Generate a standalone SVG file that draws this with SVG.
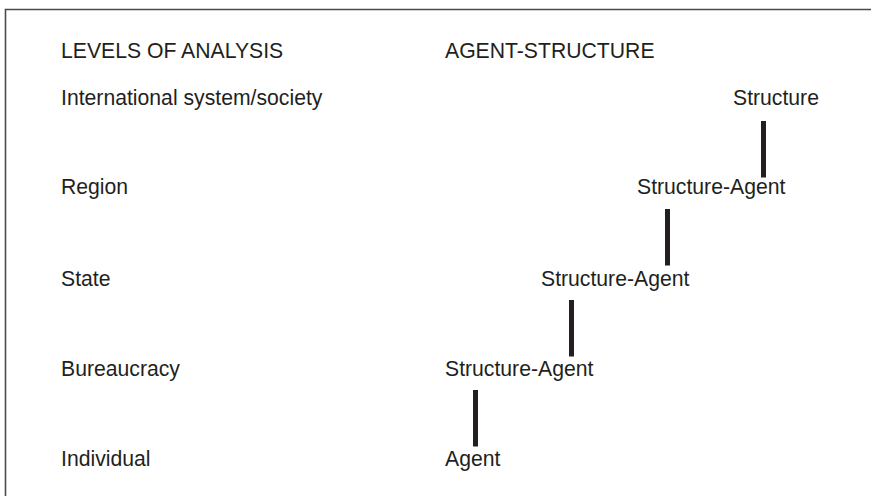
<svg xmlns="http://www.w3.org/2000/svg" width="871" height="496" viewBox="0 0 871 496">
<style>
text{font-family:"Liberation Sans",Arial,sans-serif;font-size:21.2px;fill:#231f20}
.bar{stroke:#231f20;stroke-width:5;fill:none}
.frame{stroke:#4a4a4a;stroke-width:1.6;fill:none}
</style>
<rect width="871" height="496" fill="#ffffff"/>
<path class="frame" d="M5.5,496 V9.5 H871"/>
<g id="headers">
<text x="61" y="58.3">LEVELS OF ANALYSIS</text>
<text x="445" y="58.3">AGENT-STRUCTURE</text>
</g>
<g id="levels">
<text x="61" y="104.5">International system/society</text>
<text x="61" y="193.5">Region</text>
<text x="61" y="286">State</text>
<text x="61" y="375.5">Bureaucracy</text>
<text x="61" y="466">Individual</text>
</g>
<g id="n-structure"><text x="733" y="104.5">Structure</text></g>
<g id="n-region"><text x="637" y="193.5">Structure-Agent</text></g>
<g id="n-state"><text x="541" y="286">Structure-Agent</text></g>
<g id="n-bureau"><text x="445" y="375.5">Structure-Agent</text></g>
<g id="n-agent"><text x="445" y="466">Agent</text></g>
<g id="connectors">
<line class="bar" x1="763.5" y1="121" x2="763.5" y2="177.5"/>
<line class="bar" x1="667.5" y1="209" x2="667.5" y2="265.5"/>
<line class="bar" x1="571.5" y1="300" x2="571.5" y2="356.5"/>
<line class="bar" x1="475.5" y1="390" x2="475.5" y2="446.5"/>
</g>
</svg>
